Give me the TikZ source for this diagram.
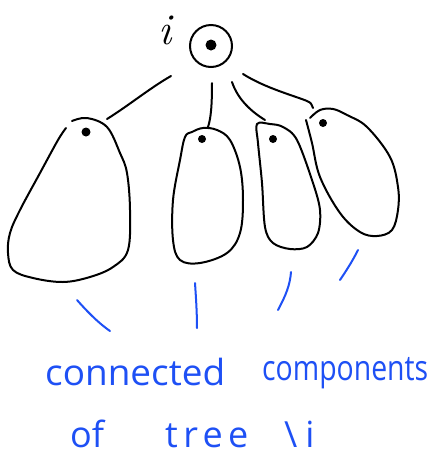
\documentclass[tikz,border=0pt]{standalone}
\usepackage{fontspec}
\newfontfamily\hand{Open Sans}
\newfontfamily\handls{Open Sans}[LetterSpace=15]
\definecolor{inkblue}{RGB}{30,80,245}
\newcommand{\fitw}[2]{\resizebox{#1}{\height}{#2}}
\begin{document}
\begin{tikzpicture}[x=1pt,y=-1pt,
  ink/.style={line width=2pt, line cap=round, line join=round},
  bink/.style={ink, draw=inkblue},
  word/.style={text=inkblue, font=\hand\fontsize{36}{36}\selectfont, anchor=base west, inner sep=0pt}]
\useasboundingbox[fill=white] (0,0) rectangle (430,456);
% root
\node[circle, draw, line width=2pt, minimum size=42pt, inner sep=0pt] (root) at (211,46) {};
\fill (211,45) circle (5.5);
\node[font=\fontsize{44}{44}\selectfont\itshape, anchor=base west, inner sep=0pt] (ilab) at (158,44) {i};
% blobs
\draw[ink] plot[smooth, tension=0.6] coordinates {(72,121) (87,118) (107,127) (120,153) (127,173) (130,210) (128,250) (113,267) (90,277) (63,282) (33,278) (13,270) (8,253) (10,233) (20,210) (40,173) (58,140) (66,128)};
\fill (86,132) circle (4.5);
\draw[ink] plot[smooth cycle, tension=0.6] coordinates {(192,132) (203,128) (217,130) (230,140) (240,167) (243,200) (240,233) (227,253) (200,263) (180,260) (173,240) (173,200) (180,160) (185,137)};
\fill (202,139) circle (4);
\draw[ink] plot[smooth cycle, tension=0.55] coordinates {(257,124) (270,124) (283,127) (297,140) (313,183) (320,210) (318,233) (307,247) (290,249) (273,243) (265,227) (262,183) (258,143)};
\fill (273,139) circle (4);
\draw[ink] plot[smooth, tension=0.6] coordinates {(310,118) (320,110) (333,109) (347,115) (367,127) (390,157) (398,187) (398,210) (392,230) (377,236) (360,232) (340,213) (320,177) (312,143) (306,120)};
\fill (323,123) circle (4);
% connector end points
\coordinate (a1) at (171,76); \coordinate (b1) at (107,119);
\coordinate (a2) at (212,83); \coordinate (b2) at (208,127);
\coordinate (a3) at (232,82); \coordinate (b3) at (265,120);
\coordinate (a4) at (243,74); \coordinate (b4) at (313,108);
\draw[ink] (a1) .. controls (150,88) and (128,106) .. (b1);
\draw[ink] (a2) .. controls (212,105) and (211,118) .. (b2);
\draw[ink] (a3) .. controls (238,100) and (252,112) .. (b3);
\draw[ink] (a4) .. controls (265,88) and (295,96) .. (307,101) .. controls (311,103) .. (b4);
% blue strokes
\coordinate (p1) at (77,300); \coordinate (q1) at (110,331);
\coordinate (p2) at (195,283); \coordinate (q2) at (197,328);
\coordinate (p3) at (291,272); \coordinate (q3) at (278,310);
\coordinate (p4) at (358,250); \coordinate (q4) at (340,280);
\draw[bink] (p1) .. controls (85,309) and (97,322) .. (q1);
\draw[bink] (p2) .. controls (196,298) and (197,313) .. (q2);
\draw[bink] (p3) .. controls (290,285) and (286,295) .. (q3);
\draw[bink] (p4) .. controls (352,262) and (346,271) .. (q4);
% text
\node[word] (w1) at (45,385) {\fitw{180pt}{connected}};
\node[word, font=\hand\fontsize{35}{35}\selectfont] (w2) at (262,380) {\fitw{166pt}{components}};
\node[word] (w3) at (70,447) {of};
\node[word, font=\handls\fontsize{36}{36}\selectfont] (w4) at (165,447) {tree};
\node[word] (w5) at (284,447) {\textbackslash\kern8pt i};
\end{tikzpicture}
\end{document}
